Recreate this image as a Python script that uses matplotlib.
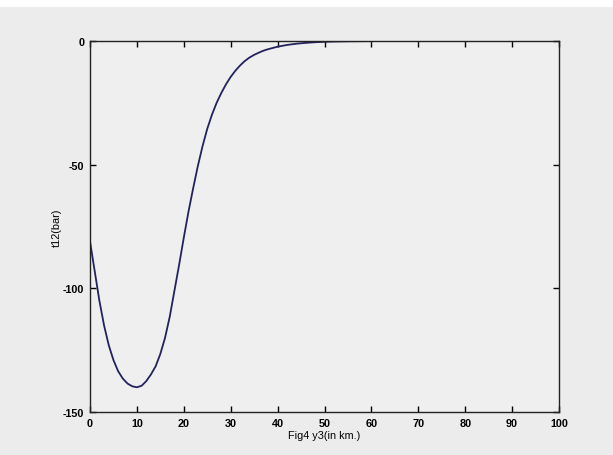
import numpy as np
import matplotlib.pyplot as plt
from matplotlib.patches import Rectangle

plt.rcParams['axes.unicode_minus'] = False

# values (depth in km, t12 in bar)
y3 = [0, 0.5, 1, 1.5, 2, 3, 4, 5, 6, 7, 8, 9, 10, 11, 12, 13, 14, 15, 16, 17,
      18, 19, 20, 21, 22, 23, 24, 25, 26, 27, 28, 29, 30, 31, 32, 33, 34, 35,
      36, 37, 38, 39, 40, 42, 44, 46, 48, 50, 52, 55, 60]
t12 = [-81, -87, -93, -99, -105, -115, -123, -129, -133.5, -136.5, -138.5,
       -139.6, -140, -139.4, -137.5, -134.8, -131.5, -126.5, -120, -111.5,
       -101, -90.5, -79.5, -69, -59.5, -50.5, -42.5, -35.5, -29.8, -25, -21,
       -17.5, -14.5, -12, -9.9, -8.1, -6.7, -5.6, -4.7, -3.9, -3.3, -2.8, -2.3,
       -1.6, -1.1, -0.75, -0.5, -0.33, -0.22, -0.12, -0.05]

xticks = [0, 10, 20, 30, 40, 50, 60, 70, 80, 90, 100]
yticks = [0, -50, -100, -150]

bg = '#ececec'
fig = plt.figure(figsize=(6.13, 4.56), dpi=100, facecolor=bg)
fig.patches.append(Rectangle((0, 1 - 8 / 456), 1, 8 / 456, transform=fig.transFigure,
                             facecolor='white', edgecolor='none', zorder=-1))

ax = fig.add_axes([90 / 613, 43 / 456, 469 / 613, 371 / 456])
ax.set_facecolor('#efefef')
ax.plot(y3, t12, color='#22225e', lw=1.3)

ax.set_xlim(0, 100)
ax.set_ylim(-150, 0)
ax.set_xticks(xticks)
ax.set_yticks(yticks)
ax.tick_params(direction='in', top=True, right=True, length=4, width=1,
               labelsize=7.8, pad=4)
for lab in ax.get_xticklabels() + ax.get_yticklabels():
    lab.set_fontweight('bold')
    lab.set_fontfamily('Liberation Sans')

for s in ax.spines.values():
    s.set_linewidth(1)
    s.set_color('#222222')

ax.set_xlabel('Fig4 y3(in km.)', fontsize=7.8, family='Liberation Sans', labelpad=2)
ax.set_ylabel('t12(bar)', fontsize=7.8, family='Liberation Sans', labelpad=1)

fig.savefig('out.png', dpi=100, facecolor=bg)
